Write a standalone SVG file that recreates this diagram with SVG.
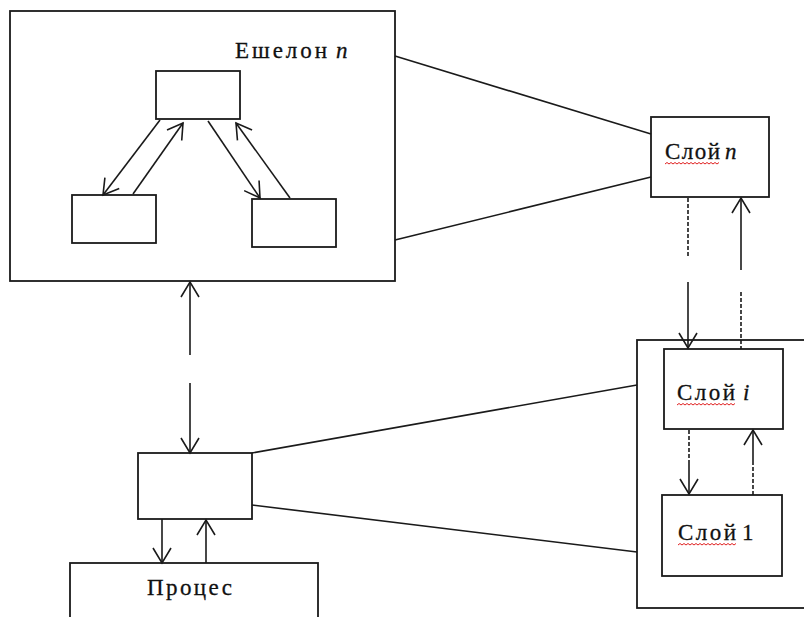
<svg xmlns="http://www.w3.org/2000/svg" width="804" height="617" viewBox="0 0 804 617">
  <style>
    .box { fill: #fff; stroke: #1a1a1a; stroke-width: 1.8; }
    .ln { fill: none; stroke: #1a1a1a; stroke-width: 1.6; }
    .dash { fill: none; stroke: #1a1a1a; stroke-width: 1.6; stroke-dasharray: 4 2; }
    .arr { marker-end: url(#ah); }
    .t { font-family: "Liberation Serif", "Times New Roman", serif; font-size: 23px; fill: #111; stroke: #111; stroke-width: 0.3; }
    .it { font-style: italic; }
    .wave { fill: none; stroke: #e02020; stroke-width: 1; }
  </style>
  <defs>
    <marker id="ah" viewBox="-17 -10 19 20" refX="0" refY="0" markerWidth="19" markerHeight="20" markerUnits="userSpaceOnUse" orient="auto">
      <path d="M-15,-9 L0,0 L-15,9" fill="none" stroke="#1a1a1a" stroke-width="1.6"/>
    </marker>
  </defs>

  <rect width="804" height="617" fill="#fff"/>

  <!-- Echelon n with its three inner units -->
  <g id="echelon">
    <rect class="box" x="10" y="11" width="385" height="270"/>
    <text class="t" x="235" y="58" textLength="92" lengthAdjust="spacing">Ешелон</text>
    <text class="t it" x="336" y="58">n</text>
  </g>
  <g id="unit-top"><rect class="box" x="156" y="71" width="84" height="48"/></g>
  <g id="unit-left"><rect class="box" x="72" y="195" width="84" height="48"/></g>
  <g id="unit-right"><rect class="box" x="252" y="199" width="84" height="48"/></g>

  <!-- Layer stack -->
  <g id="layer-n">
    <rect class="box" x="651" y="117" width="118" height="80"/>
    <text class="t" x="665" y="159" textLength="55" lengthAdjust="spacing">Слой</text>
    <text class="t it" x="725" y="159">n</text>
    <path class="wave" d="M665,164 l2,-1.5 l2,1.5 l2,-1.5 l2,1.5 l2,-1.5 l2,1.5 l2,-1.5 l2,1.5 l2,-1.5 l2,1.5 l2,-1.5 l2,1.5 l2,-1.5 l2,1.5 l2,-1.5 l2,1.5 l2,-1.5 l2,1.5 l2,-1.5 l2,1.5 l2,-1.5 l2,1.5 l2,-1.5 l2,1.5 l2,-1.5 l2,1.5 l2,-1.5"/>
  </g>
  <g id="layer-group">
    <rect class="box" x="637" y="340" width="190" height="268"/>
  </g>
  <g id="layer-i">
    <rect class="box" x="664" y="349" width="119" height="80"/>
    <text class="t" x="677" y="400" textLength="58" lengthAdjust="spacing">Слой</text>
    <text class="t it" x="743" y="400">i</text>
    <path class="wave" d="M677,405 l2,-1.5 l2,1.5 l2,-1.5 l2,1.5 l2,-1.5 l2,1.5 l2,-1.5 l2,1.5 l2,-1.5 l2,1.5 l2,-1.5 l2,1.5 l2,-1.5 l2,1.5 l2,-1.5 l2,1.5 l2,-1.5 l2,1.5 l2,-1.5 l2,1.5 l2,-1.5 l2,1.5 l2,-1.5 l2,1.5 l2,-1.5 l2,1.5 l2,-1.5 l2,1.5 l2,-1.5"/>
  </g>
  <g id="layer-1">
    <rect class="box" x="662" y="495" width="120" height="81"/>
    <text class="t" x="678" y="540" textLength="58" lengthAdjust="spacing">Слой</text>
    <text class="t" x="742" y="540">1</text>
    <path class="wave" d="M678,545 l2,-1.5 l2,1.5 l2,-1.5 l2,1.5 l2,-1.5 l2,1.5 l2,-1.5 l2,1.5 l2,-1.5 l2,1.5 l2,-1.5 l2,1.5 l2,-1.5 l2,1.5 l2,-1.5 l2,1.5 l2,-1.5 l2,1.5 l2,-1.5 l2,1.5 l2,-1.5 l2,1.5 l2,-1.5 l2,1.5 l2,-1.5 l2,1.5 l2,-1.5 l2,1.5 l2,-1.5"/>
  </g>

  <!-- Interface block and process -->
  <g id="interface"><rect class="box" x="138" y="453" width="114" height="66"/></g>
  <g id="process">
    <rect class="box" x="70" y="563" width="248" height="80"/>
    <text class="t" x="147" y="595" textLength="85" lengthAdjust="spacing">Процес</text>
  </g>

  <g id="connectors">
    <!-- inside the echelon -->
    <line class="ln arr" x1="160" y1="120" x2="103" y2="195"/>
    <line class="ln arr" x1="133" y1="194" x2="183" y2="123"/>
    <line class="ln arr" x1="208" y1="121" x2="260" y2="198"/>
    <line class="ln arr" x1="290" y1="198" x2="236" y2="123"/>

    <!-- echelon to layer n -->
    <line class="ln" x1="395" y1="56" x2="651" y2="134"/>
    <line class="ln" x1="395" y1="240" x2="651" y2="177"/>

    <!-- interface to layer group -->
    <line class="ln" x1="252" y1="453" x2="637" y2="385"/>
    <line class="ln" x1="252" y1="505" x2="637" y2="552"/>

    <!-- echelon to interface -->
    <line class="ln arr" x1="190" y1="355" x2="190" y2="282"/>
    <line class="ln arr" x1="190" y1="383" x2="190" y2="453"/>

    <!-- layer n to layer i -->
    <line class="dash" x1="688" y1="198" x2="688" y2="256"/>
    <line class="ln arr" x1="688" y1="282" x2="688" y2="348"/>
    <line class="ln arr" x1="741" y1="270" x2="741" y2="198"/>
    <line class="dash" x1="741" y1="292" x2="741" y2="349"/>

    <!-- layer i to layer 1 -->
    <line class="dash" x1="689" y1="430" x2="689" y2="463"/>
    <line class="ln arr" x1="689" y1="463" x2="689" y2="494"/>
    <line class="dash" x1="753" y1="495" x2="753" y2="463"/>
    <line class="ln arr" x1="753" y1="463" x2="753" y2="430"/>

    <!-- interface to process -->
    <line class="ln arr" x1="162" y1="519" x2="162" y2="563"/>
    <line class="ln arr" x1="206" y1="563" x2="206" y2="520"/>
  </g>
</svg>
